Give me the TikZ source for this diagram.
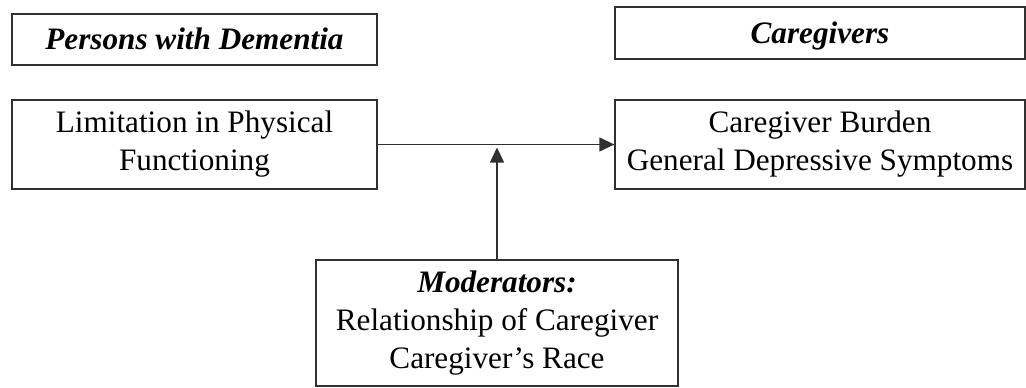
\documentclass[tikz,border=0pt]{standalone}
\usepackage{fontspec}
\setmainfont{Liberation Serif}
\usetikzlibrary{arrows.meta}
\definecolor{linec}{HTML}{303030}
\begin{document}
\begin{tikzpicture}[x=1pt,y=1pt,
  box/.style={draw=linec,line width=1.3pt,rectangle,inner sep=0pt,align=center,
    font=\fontsize{31.2}{38}\selectfont},
  head/.style={box,text height=27pt,text depth=7pt},
  conn/.style={draw=linec,line width=1.3pt,-{Triangle[length=15pt,width=14pt]}}]
\useasboundingbox (0,0) rectangle (1026,-388);
\node[head,minimum width=365pt,minimum height=51pt] (persons) at (194.5,-39.5) {\textbf{\textit{Persons with Dementia}}};
\node[head,minimum width=410pt,minimum height=52pt] (caregivers) at (820,-33) {\textbf{\textit{Caregivers}}};
\node[box,minimum width=365pt,minimum height=89pt] (limit) at (194.5,-144.5) {Limitation in Physical\\Functioning};
\node[box,minimum width=410pt,minimum height=89pt] (burden) at (820,-144.5) {Caregiver Burden\\General Depressive Symptoms};
\node[box,minimum width=362pt,minimum height=126pt] (mod) at (497,-323) {\textbf{\textit{Moderators:}}\\Relationship of Caregiver\\Caregiver’s Race};
\coordinate (mid) at (497,-147.5);
\draw[conn] (limit.east) -- (burden.west);
\draw[conn] (mod.north) -- (mid);
\end{tikzpicture}
\end{document}
